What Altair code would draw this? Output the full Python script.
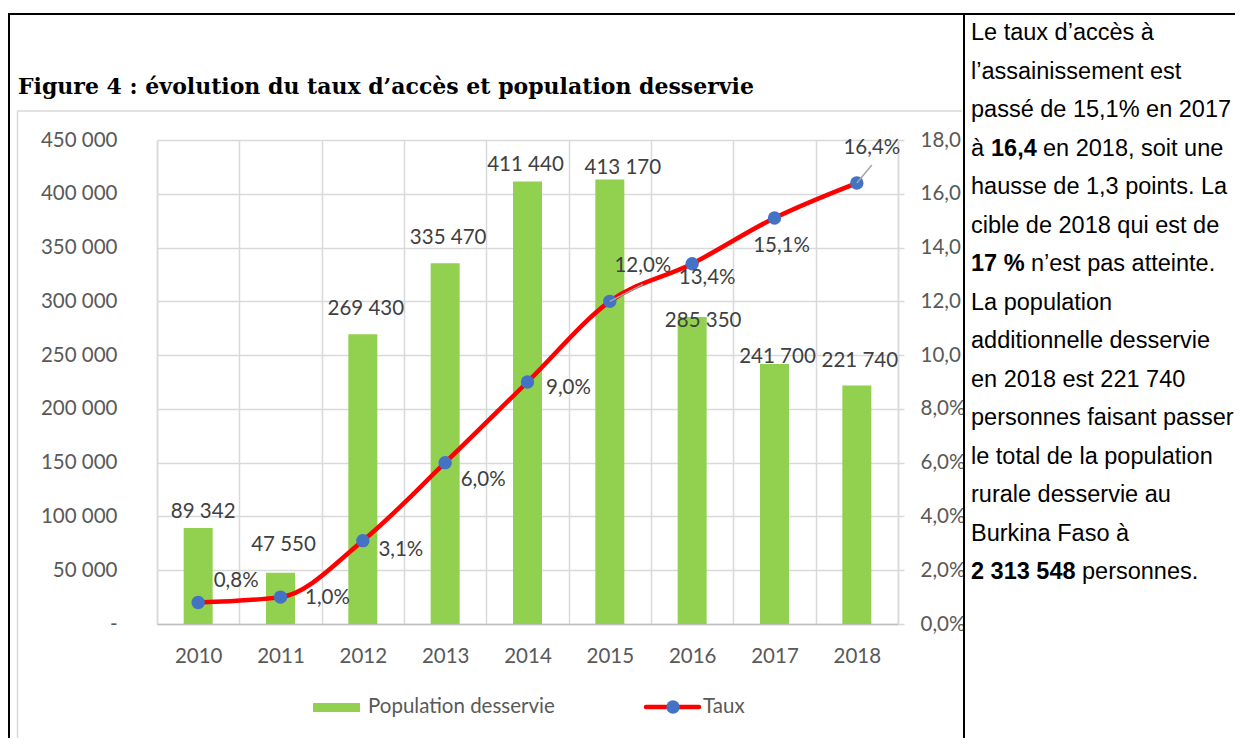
import altair as alt
import pandas as pd

# ---------------- data ----------------
years = [2010, 2011, 2012, 2013, 2014, 2015, 2016, 2017, 2018]
population = [89342, 47550, 269430, 335470, 411440, 413170, 285350, 241700, 221740]
taux = [0.8, 1.0, 3.1, 6.0, 9.0, 12.0, 13.4, 15.1, 16.4]
pop_labels = ["89 342", "47 550", "269 430", "335 470", "411 440", "413 170", "285 350", "241 700", "221 740"]
taux_labels = ["0,8%", "1,0%", "3,1%", "6,0%", "9,0%", "12,0%", "13,4%", "15,1%", "16,4%"]

left_ticks = [0, 50000, 100000, 150000, 200000, 250000, 300000, 350000, 400000, 450000]
right_ticks = [0, 2, 4, 6, 8, 10, 12, 14, 16, 18]

title_text = "Figure 4 : évolution du taux d’accès et population desservie"
legend_bar = "Population desservie"
legend_line = "Taux"

right_lines = [
    [("Le taux d’accès à", False)],
    [("l’assainissement est", False)],
    [("passé de 15,1% en 2017", False)],
    [("à", False), ("16,4", True), ("en 2018, soit une", False)],
    [("hausse de 1,3 points. La", False)],
    [("cible de 2018 qui est de", False)],
    [("17 %", True), ("n’est pas atteinte.", False)],
    [("La population", False)],
    [("additionnelle desservie", False)],
    [("en 2018 est 221 740", False)],
    [("personnes faisant passer", False)],
    [("le total de la population", False)],
    [("rurale desservie  au", False)],
    [("Burkina Faso  à", False)],
    [("2 313 548", True), ("personnes.", False)],
]
right_seg_x = [
    [971], [971], [971], [971, 991, 1043], [971], [971], [971, 1031],
    [971], [971], [971], [971], [971], [971], [971], [971, 1082],
]

# label placement offsets in pixels (relative to the bar top / point)
pop_lab_dx = [5, 3, 3, 3, -2, 13, 11, 3, 3]
pop_lab_dy = [-16, -28, -25, -25, -16, -12, 4, -7, -25]
taux_lab_dx = [38, 47, 38, 38, 41, 33, 15, 7, 15]
taux_lab_dy = [-21, 1, 9, 17, 6, -35, 14, 28, -35]
leader_dx = [0, 0, 0, 0, 0, 33, 0, 0, 15]
leader_dy = [0, 0, 0, 0, 0, -17, 0, 0, -18]

# ---------------- layout ----------------
PLOT_L, PLOT_T = 157, 140
W, H = 741, 484
CANVAS_W, CANVAS_H = 1227, 730
POP_MAX, TAUX_MAX = 450000, 18
YEAR_PX = W / 9.0

FONT = "Lato"
FS = 20.5
GRID = "#D9D9D9"


def X(p):
    return p - PLOT_L


def Y(p):
    return p - PLOT_T


df = pd.DataFrame({
    "year": years, "pop": population, "taux": taux,
    "pop_label": pop_labels, "taux_label": taux_labels,
})
df["plx"] = df["year"] + pd.Series(pop_lab_dx) / YEAR_PX
df["ply"] = df["pop"] - pd.Series(pop_lab_dy) * POP_MAX / H
df["tlx"] = df["year"] + pd.Series(taux_lab_dx) / YEAR_PX
df["tly"] = df["taux"] - pd.Series(taux_lab_dy) * TAUX_MAX / H
df["lx2"] = df["year"] + pd.Series(leader_dx) / YEAR_PX
df["ly2"] = df["taux"] - pd.Series(leader_dy) * TAUX_MAX / H
df["has_leader"] = [1 if d != 0 else 0 for d in leader_dx]

one = pd.DataFrame({"a": [0]})

x_scale = alt.Scale(domain=[2009.5, 2018.5], nice=False, zero=False, padding=0)
y_pop_scale = alt.Scale(domain=[0, POP_MAX], nice=False, padding=0)
y_taux_scale = alt.Scale(domain=[0, TAUX_MAX], nice=False, padding=0)

x_axis = alt.Axis(
    values=[2009.5 + i for i in range(10)],
    labelExpr="datum.value < 2018 ? format(datum.value + 0.5, 'd') : ''",
    labelOffset=YEAR_PX / 2, grid=True, gridColor=GRID, gridWidth=1.5,
    ticks=False, domainColor="#BFBFBF", domainWidth=1.5,
    labelFont=FONT, labelFontSize=FS, labelColor="#595959", labelPadding=22,
    labelFlush=False, labelOverlap=False, title=None,
)
y_axis_left = alt.Axis(
    values=left_ticks,
    labelExpr="datum.value == 0 ? '-\u00a0\u00a0\u00a0' : replace(format(datum.value, ','), ',', ' ')",
    grid=True, gridColor=GRID, gridWidth=1.5, ticks=False,
    domainColor=GRID, domainWidth=1.5, labelFont=FONT, labelFontSize=FS,
    labelColor="#595959", labelPadding=40, labelOverlap=False, labelFlush=False, title=None,
)
# the right column of the page cuts the two-digit labels after their last digit
y_axis_right = alt.Axis(
    orient="right", values=right_ticks,
    labelExpr="datum.value >= 10 ? replace(format(datum.value, '.1f'), '.', ',') : replace(format(datum.value, '.1f'), '.', ',') + '%'",
    grid=False, ticks=True, tickSize=6, tickColor=GRID, tickWidth=1.5,
    domainColor=GRID, domainWidth=1.5, labelFont=FONT, labelFontSize=FS,
    labelColor="#595959", labelPadding=16,
    labelOverlap=False, labelFlush=False, title=None,
)


def xenc(field):
    # identical axis definition on every layer so the shared x axis merges
    return alt.X(field, scale=x_scale, axis=x_axis)


base = alt.Chart(df)

bars = base.mark_bar(size=29, color="#92D050").encode(
    x=xenc("year:Q"),
    y=alt.Y("pop:Q", scale=y_pop_scale, axis=y_axis_left),
)
bar_labels = base.mark_text(font=FONT, fontSize=FS, color="#404040",
                            align="center", baseline="middle").encode(
    x=xenc("plx:Q"),
    y=alt.Y("ply:Q", scale=y_pop_scale, axis=None),
    text="pop_label:N",
)
line = base.mark_line(color="#FF0000", strokeWidth=4.5, interpolate="monotone").encode(
    x=xenc("year:Q"),
    y=alt.Y("taux:Q", scale=y_taux_scale, axis=y_axis_right),
)
points = base.mark_circle(size=180, color="#4472C4", opacity=1).encode(
    x=xenc("year:Q"),
    y=alt.Y("taux:Q", scale=y_taux_scale, axis=None),
)
leaders = base.transform_filter("datum.has_leader == 1").mark_rule(
    color="#A6A6A6", strokeWidth=1.5).encode(
    x=xenc("year:Q"),
    y=alt.Y("taux:Q", scale=y_taux_scale, axis=None),
    x2="lx2:Q", y2="ly2:Q",
)
taux_text = base.mark_text(font=FONT, fontSize=FS, color="#404040",
                           align="center", baseline="middle").encode(
    x=xenc("tlx:Q"),
    y=alt.Y("tly:Q", scale=y_taux_scale, axis=None),
    text="taux_label:N",
)

deco = alt.Chart(one)


def hrule(x1, x2, y, color, w):
    return deco.mark_rule(color=color, strokeWidth=w).encode(
        x=alt.value(X(x1)), x2=alt.value(X(x2)), y=alt.value(Y(y)))


def vrule(x, y1, y2, color, w):
    return deco.mark_rule(color=color, strokeWidth=w).encode(
        x=alt.value(X(x)), y=alt.value(Y(y1)), y2=alt.value(Y(y2)))


frame = [
    hrule(17, 962, 111, GRID, 1.5),
    vrule(17.5, 111, 760, GRID, 1.5),
]

title = deco.mark_text(font="DejaVu Serif", fontWeight="bold", fontSize=22, color="black",
                       align="left", baseline="alphabetic").encode(
    x=alt.value(X(18)), y=alt.value(Y(94)), text=alt.value(title_text))

leg_rect = deco.mark_rect(color="#92D050").encode(
    x=alt.value(X(313)), x2=alt.value(X(360)), y=alt.value(Y(703)), y2=alt.value(Y(712)))
leg_text1 = deco.mark_text(font=FONT, fontSize=FS, color="#595959", align="left",
                           baseline="middle").encode(
    x=alt.value(X(368)), y=alt.value(Y(707)), text=alt.value(legend_bar))
leg_line = deco.mark_rule(color="#FF0000", strokeWidth=4.5, strokeCap="round").encode(
    x=alt.value(X(646)), x2=alt.value(X(699)), y=alt.value(Y(707)))
leg_dot = deco.mark_circle(size=180, color="#4472C4", opacity=1).encode(
    x=alt.value(X(673)), y=alt.value(Y(707)))
leg_text2 = deco.mark_text(font=FONT, fontSize=FS, color="#595959", align="left",
                           baseline="middle").encode(
    x=alt.value(X(703)), y=alt.value(Y(707)), text=alt.value(legend_line))

borders = [
    hrule(8, 1243, 14, "black", 2),
    vrule(9, 13, 760, "black", 2),
    vrule(964, 13, 760, "black", 2),
]

text_layers = []
for i, segs in enumerate(right_lines):
    for (txt, bold), sx in zip(segs, right_seg_x[i]):
        text_layers.append(
            deco.mark_text(font="Liberation Sans", fontSize=23.5, color="black",
                           fontWeight="bold" if bold else "normal",
                           align="left", baseline="middle").encode(
                x=alt.value(X(sx)), y=alt.value(Y(33 + 38.5 * i)), text=alt.value(txt))
        )

chart = alt.layer(
    bars, bar_labels, line, points, leaders, taux_text,
    *frame, title, leg_rect, leg_text1, leg_line, leg_dot, leg_text2,
    *borders, *text_layers,
).resolve_scale(y="independent").properties(
    width=W, height=H, background="white",
    padding={"left": PLOT_L - 8, "top": PLOT_T - 8,
             "right": CANVAS_W - (PLOT_L - 8) - W,
             "bottom": CANVAS_H - (PLOT_T - 8) - H},
    autosize=alt.AutoSizeParams(type="none"),
).configure_view(strokeWidth=0)

chart.save("out.html", embed_options={"renderer": "svg", "actions": False})
